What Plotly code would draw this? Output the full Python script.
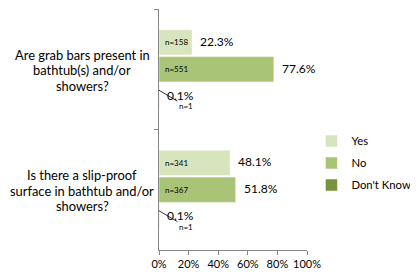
import plotly.graph_objects as go

categories = ["Are grab bars present in<br>bathtub(s) and/or<br>showers?",
              "Is there a slip-proof<br>surface in bathtub and/or<br>showers?"]
series_names = ["Yes", "No", "Don't Know"]
pct_yes = [0.223, 0.481]
pct_no = [0.776, 0.518]
pct_dk = [0.001, 0.001]
n_yes = [158, 341]
n_no = [551, 367]
n_dk = [1, 1]
x_ticks = [0, 0.2, 0.4, 0.6, 0.8, 1.0]

colors = ["#d7e4bd", "#a9c476", "#77933c"]
values = [pct_yes, pct_no, pct_dk]
counts = [n_yes, n_no, n_dk]
FONT = "Lato, Calibri, Carlito, sans-serif"
PITCH = 27  # px between bars inside a group

fig = go.Figure()
for i, name in enumerate(series_names):
    fig.add_trace(go.Bar(
        y=categories, x=values[i], name=name, orientation="h",
        marker=dict(color=colors[i], line=dict(color="white", width=0.5)),
        legendgroup=name, hoverinfo="skip",
    ))

annotations = []
for i in range(len(series_names)):
    for j, cat in enumerate(categories):
        v = values[i][j]
        n = counts[i][j]
        yshift = -PITCH * (i - 1)
        annotations.append(dict(
            x=v, y=cat, xref="x", yref="y", text=f"{v*100:.1f}%",
            showarrow=False, xanchor="left", xshift=6, yshift=yshift + 1,
            font=dict(size=12, color="#000000", family=FONT)))
        if v > 0.05:
            annotations.append(dict(
                x=0, y=cat, xref="x", yref="y", text=f"n={n}",
                showarrow=False, xanchor="left", xshift=4, yshift=yshift,
                font=dict(size=8, color="#000000", family=FONT)))
        else:
            annotations.append(dict(
                x=0, y=cat, xref="x", yref="y", text=f"n={n}",
                showarrow=True, arrowhead=0, arrowwidth=0.8, arrowcolor="#000000",
                ax=27, ay=16, yshift=yshift + 6, standoff=0,
                font=dict(size=8, color="#000000", family=FONT)))

# category labels, one annotation per line so they stay centred
for j, cat in enumerate(categories):
    lines = cat.split("<br>")
    for k, line in enumerate(lines):
        annotations.append(dict(
            x=-0.519, y=cat, xref="paper", yref="y", text=line, showarrow=False,
            xanchor="center", yanchor="middle", yshift=-(k - 1) * 15.5 - 1,
            font=dict(size=12.9, color="#000000", family=FONT)))

# the page adds an 8px body margin, so the figure is 8px smaller than the window
fig.update_layout(
    width=410, height=268,
    margin=dict(l=151, r=110.5, t=1, b=26, autoexpand=False),
    paper_bgcolor="white", plot_bgcolor="white",
    barmode="group", bargap=0.33, bargroupgap=0.06,
    font=dict(family=FONT, size=12, color="#000000"),
    showlegend=True,
    legend=dict(x=1.03, y=0.5125, xanchor="left", yanchor="top",
                traceorder="grouped", tracegroupgap=3,
                font=dict(size=11.3, family=FONT), itemwidth=30,
                bgcolor="rgba(0,0,0,0)"),
    xaxis=dict(range=[0, 1], tickvals=x_ticks, tickformat=".0%",
               showgrid=False, zeroline=False, showline=True,
               linecolor="#868686", linewidth=1, ticks="outside",
               ticklen=4, tickcolor="#868686", tickangle=0, automargin=False,
               tickfont=dict(size=11, family=FONT, color="#000000")),
    yaxis=dict(autorange="reversed", showticklabels=False, showgrid=False,
               showline=True, linecolor="#868686", linewidth=1,
               ticks="outside", ticklen=4, tickcolor="#868686",
               tickson="boundaries", automargin=False),
    annotations=annotations,
)

fig.write_html("out.html")
